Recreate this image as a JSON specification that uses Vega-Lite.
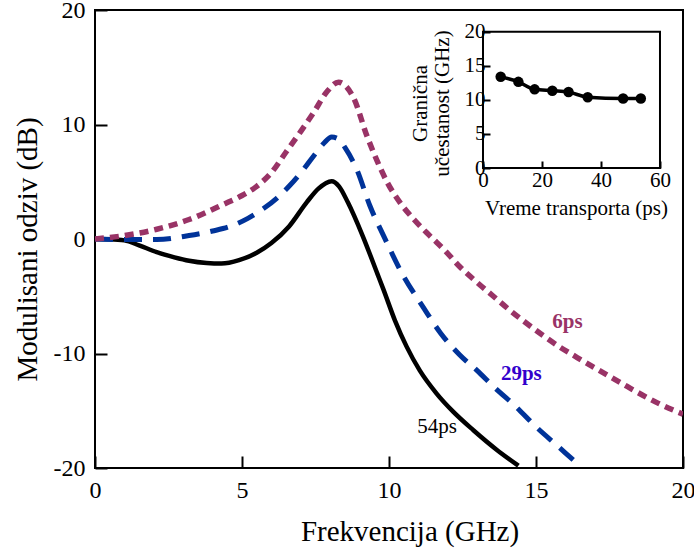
{
  "$schema": "https://vega.github.io/schema/vega-lite/v6.json",
  "width": 588,
  "height": 458,
  "autosize": {"type": "none"},
  "padding": {"left": 95, "top": 10, "right": 11, "bottom": 86},
  "background": "white",
  "config": {
    "view": {"stroke": "black", "strokeWidth": 2},
    "font": "Liberation Serif"
  },
  "datasets": {
    "curves": [
      {"s": "54ps", "f": 0, "db": 0},
      {"s": "54ps", "f": 0.5, "db": -0.02},
      {"s": "54ps", "f": 1.0, "db": -0.12},
      {"s": "54ps", "f": 1.5, "db": -0.55},
      {"s": "54ps", "f": 2.1, "db": -1.15},
      {"s": "54ps", "f": 2.7, "db": -1.6},
      {"s": "54ps", "f": 3.2, "db": -1.9},
      {"s": "54ps", "f": 3.8, "db": -2.1},
      {"s": "54ps", "f": 4.3, "db": -2.15},
      {"s": "54ps", "f": 4.9, "db": -1.85},
      {"s": "54ps", "f": 5.5, "db": -1.2},
      {"s": "54ps", "f": 6.0, "db": -0.35},
      {"s": "54ps", "f": 6.6, "db": 1.1},
      {"s": "54ps", "f": 7.2, "db": 3.2},
      {"s": "54ps", "f": 7.6, "db": 4.4},
      {"s": "54ps", "f": 8.05, "db": 5.05},
      {"s": "54ps", "f": 8.3, "db": 4.6},
      {"s": "54ps", "f": 8.6, "db": 3.2},
      {"s": "54ps", "f": 9.1, "db": 0.3},
      {"s": "54ps", "f": 9.6, "db": -3.0},
      {"s": "54ps", "f": 9.81, "db": -4.4},
      {"s": "54ps", "f": 10.2, "db": -7.1},
      {"s": "54ps", "f": 10.6, "db": -9.4},
      {"s": "54ps", "f": 11.05, "db": -11.5},
      {"s": "54ps", "f": 11.62, "db": -13.5},
      {"s": "54ps", "f": 12.19, "db": -15.1},
      {"s": "54ps", "f": 12.87, "db": -16.7},
      {"s": "54ps", "f": 13.66, "db": -18.4},
      {"s": "54ps", "f": 14.4, "db": -19.8},
      {"s": "29ps", "f": 0, "db": 0},
      {"s": "29ps", "f": 1.0, "db": -0.05},
      {"s": "29ps", "f": 2.1, "db": -0.05},
      {"s": "29ps", "f": 3.2, "db": 0.3},
      {"s": "29ps", "f": 4.0, "db": 0.7},
      {"s": "29ps", "f": 4.6, "db": 1.1},
      {"s": "29ps", "f": 5.2, "db": 1.8},
      {"s": "29ps", "f": 5.7, "db": 2.6},
      {"s": "29ps", "f": 6.2, "db": 3.6},
      {"s": "29ps", "f": 6.6, "db": 4.6},
      {"s": "29ps", "f": 7.1, "db": 6.1},
      {"s": "29ps", "f": 7.45, "db": 7.3},
      {"s": "29ps", "f": 7.8, "db": 8.4},
      {"s": "29ps", "f": 8.05, "db": 8.9},
      {"s": "29ps", "f": 8.3, "db": 8.7},
      {"s": "29ps", "f": 8.5, "db": 8.0},
      {"s": "29ps", "f": 8.9, "db": 6.1},
      {"s": "29ps", "f": 9.35, "db": 2.9},
      {"s": "29ps", "f": 9.85, "db": 0.1},
      {"s": "29ps", "f": 10.4, "db": -2.8},
      {"s": "29ps", "f": 11.2, "db": -6.1},
      {"s": "29ps", "f": 11.75, "db": -8.2},
      {"s": "29ps", "f": 12.4, "db": -10.1},
      {"s": "29ps", "f": 13.0, "db": -11.5},
      {"s": "29ps", "f": 13.6, "db": -13.0},
      {"s": "29ps", "f": 14.3, "db": -14.6},
      {"s": "29ps", "f": 15.0, "db": -16.4},
      {"s": "29ps", "f": 15.7, "db": -18.0},
      {"s": "29ps", "f": 16.4, "db": -19.6},
      {"s": "6ps", "f": 0, "db": 0},
      {"s": "6ps", "f": 1.0, "db": 0.3},
      {"s": "6ps", "f": 2.1, "db": 0.85},
      {"s": "6ps", "f": 3.2, "db": 1.7},
      {"s": "6ps", "f": 4.35, "db": 3.0},
      {"s": "6ps", "f": 5.0, "db": 3.8},
      {"s": "6ps", "f": 5.5, "db": 4.6},
      {"s": "6ps", "f": 6.0, "db": 5.8},
      {"s": "6ps", "f": 6.5, "db": 7.6},
      {"s": "6ps", "f": 7.0, "db": 9.4},
      {"s": "6ps", "f": 7.45, "db": 11.1},
      {"s": "6ps", "f": 7.9, "db": 12.9},
      {"s": "6ps", "f": 8.28, "db": 13.7},
      {"s": "6ps", "f": 8.55, "db": 13.3},
      {"s": "6ps", "f": 8.8, "db": 12.3},
      {"s": "6ps", "f": 9.25, "db": 9.0},
      {"s": "6ps", "f": 9.6, "db": 6.8},
      {"s": "6ps", "f": 9.95, "db": 4.9},
      {"s": "6ps", "f": 10.4, "db": 3.1},
      {"s": "6ps", "f": 10.85, "db": 1.7},
      {"s": "6ps", "f": 11.4, "db": 0.25},
      {"s": "6ps", "f": 11.9, "db": -1.0},
      {"s": "6ps", "f": 12.4, "db": -2.4},
      {"s": "6ps", "f": 13.0, "db": -3.8},
      {"s": "6ps", "f": 13.55, "db": -5.0},
      {"s": "6ps", "f": 14.1, "db": -6.2},
      {"s": "6ps", "f": 14.7, "db": -7.4},
      {"s": "6ps", "f": 15.25, "db": -8.45},
      {"s": "6ps", "f": 15.8, "db": -9.42},
      {"s": "6ps", "f": 16.4, "db": -10.35},
      {"s": "6ps", "f": 16.95, "db": -11.18},
      {"s": "6ps", "f": 17.5, "db": -12.0},
      {"s": "6ps", "f": 18.1, "db": -12.88},
      {"s": "6ps", "f": 18.6, "db": -13.6},
      {"s": "6ps", "f": 19.2, "db": -14.4},
      {"s": "6ps", "f": 20.0, "db": -15.3}
    ],
    "labels": [
      {"label": "6ps", "f": 16.07, "db": -7.25},
      {"label": "29ps", "f": 14.5, "db": -11.76},
      {"label": "54ps", "f": 11.64, "db": -16.45}
    ],
    "inset": [
      {"t": 6.0, "fc": 13.4},
      {"t": 12.0, "fc": 12.65},
      {"t": 17.5, "fc": 11.55},
      {"t": 23.5, "fc": 11.35},
      {"t": 29.0, "fc": 11.15},
      {"t": 35.5, "fc": 10.4},
      {"t": 47.5, "fc": 10.2},
      {"t": 53.5, "fc": 10.2}
    ]
  },
  "layer": [
    {
      "data": {"name": "curves"},
      "encoding": {
        "x": {
          "field": "f", "type": "quantitative",
          "scale": {"domain": [0, 20], "nice": false, "zero": false},
          "axis": {
            "orient": "bottom", "values": [0, 5, 10, 15, 20], "grid": false, "domain": false,
            "ticks": true, "tickSize": -12, "tickWidth": 2, "tickColor": "black",
            "labelFont": "Liberation Serif", "labelFontSize": 24, "labelColor": "black",
            "labelPadding": 22, "labelFlush": false, "labelOverlap": false, "labelExpr": "datum.value",
            "title": "Frekvencija (GHz)", "titleFont": "Liberation Serif", "titleFontSize": 29,
            "titleFontWeight": "normal", "titleColor": "black",
            "titleX": 314.5, "titleY": 72, "titleBaseline": "alphabetic", "titleAlign": "center"
          }
        },
        "y": {
          "field": "db", "type": "quantitative",
          "scale": {"domain": [-20, 20], "nice": false, "zero": false},
          "axis": {
            "orient": "left", "values": [-20, -10, 0, 10, 20], "grid": false, "domain": false,
            "ticks": true, "tickSize": -12, "tickWidth": 2, "tickColor": "black",
            "labelFont": "Liberation Serif", "labelFontSize": 24, "labelColor": "black",
            "labelPadding": 22, "labelFlush": false, "labelOverlap": false, "labelExpr": "datum.value",
            "title": "Modulisani odziv (dB)", "titleFont": "Liberation Serif", "titleFontSize": 29,
            "titleFontWeight": "normal", "titleColor": "black",
            "titleX": -59, "titleY": 239, "titleBaseline": "alphabetic", "titleAlign": "center", "titleAngle": 270
          }
        }
      },
      "layer": [
        {
          "transform": [{"filter": "datum.s === '54ps'"}],
          "mark": {"type": "line", "color": "black", "strokeWidth": 4.5, "interpolate": "monotone", "clip": true}
        },
        {
          "transform": [{"filter": "datum.s === '29ps'"}],
          "mark": {"type": "line", "color": "#003399", "strokeWidth": 5, "strokeDash": [18, 11], "interpolate": "monotone", "clip": true}
        },
        {
          "transform": [{"filter": "datum.s === '6ps'"}],
          "mark": {"type": "line", "color": "#993366", "strokeWidth": 5.5, "strokeDash": [9, 6], "interpolate": "monotone", "clip": true}
        },
        {
          "data": {"name": "labels"},
          "transform": [{"filter": "datum.label === '6ps'"}],
          "mark": {"type": "text", "font": "Liberation Serif", "fontSize": 21, "fontWeight": "bold", "color": "#993366", "align": "center", "baseline": "middle"},
          "encoding": {"text": {"field": "label"}}
        },
        {
          "data": {"name": "labels"},
          "transform": [{"filter": "datum.label === '29ps'"}],
          "mark": {"type": "text", "font": "Liberation Serif", "fontSize": 21, "fontWeight": "bold", "color": "#3300cc", "align": "center", "baseline": "middle"},
          "encoding": {"text": {"field": "label"}}
        },
        {
          "data": {"name": "labels"},
          "transform": [{"filter": "datum.label === '54ps'"}],
          "mark": {"type": "text", "font": "Liberation Serif", "fontSize": 21, "fontWeight": "normal", "color": "black", "align": "center", "baseline": "middle"},
          "encoding": {"text": {"field": "label"}}
        }
      ]
    },
    {
      "data": {"name": "inset"},
      "layer": [
        {
          "transform": [{"aggregate": [{"op": "count", "as": "n"}]}],
          "mark": {"type": "rect", "fill": "transparent", "stroke": "black", "strokeWidth": 2},
          "encoding": {
            "x": {
              "datum": 0, "type": "quantitative",
              "scale": {"domain": [-131.53, 67.8], "nice": false, "zero": false},
              "axis": {
                "orient": "bottom", "offset": -300, "values": [0, 20, 40, 60], "grid": false, "domain": false,
                "tickSize": -7, "tickWidth": 2, "tickColor": "black",
                "labelFont": "Liberation Serif", "labelFontSize": 21, "labelColor": "black",
                "labelPadding": 8, "labelFlush": false, "labelOverlap": false,
                "title": "Vreme transporta (ps)", "titleFont": "Liberation Serif", "titleFontSize": 21,
                "titleFontWeight": "normal", "titleColor": "black",
                "titleX": 481, "titleY": 46, "titleBaseline": "alphabetic", "titleAlign": "center"
              }
            },
            "x2": {"datum": 60},
            "y": {
              "datum": 0, "type": "quantitative",
              "scale": {"domain": [-44.05, 23.2], "nice": false, "zero": false},
              "axis": {
                "orient": "left", "offset": -388, "values": [0, 5, 10, 15, 20], "grid": false, "domain": false,
                "tickSize": -7, "tickWidth": 2, "tickColor": "black",
                "labelFont": "Liberation Serif", "labelFontSize": 21, "labelColor": "black",
                "labelPadding": 5, "labelFlush": false, "labelOverlap": false,
                "title": ["Granična", "učestanost (GHz)"], "titleFont": "Liberation Serif", "titleFontSize": 21,
                "titleFontWeight": "normal", "titleColor": "black", "titleLineHeight": 22,
                "titleX": -57, "titleY": 93, "titleBaseline": "alphabetic", "titleAlign": "center", "titleAngle": 270
              }
            },
            "y2": {"datum": 20}
          }
        },
        {
          "mark": {"type": "line", "color": "black", "strokeWidth": 3.5, "interpolate": "monotone"},
          "encoding": {
            "x": {
              "field": "t", "type": "quantitative",
              "scale": {"domain": [-131.53, 67.8], "nice": false, "zero": false},
              "axis": {
                "orient": "bottom", "offset": -300, "values": [0, 20, 40, 60], "grid": false, "domain": false,
                "tickSize": -7, "tickWidth": 2, "tickColor": "black",
                "labelFont": "Liberation Serif", "labelFontSize": 21, "labelColor": "black",
                "labelPadding": 8, "labelFlush": false, "labelOverlap": false,
                "title": "Vreme transporta (ps)", "titleFont": "Liberation Serif", "titleFontSize": 21,
                "titleFontWeight": "normal", "titleColor": "black",
                "titleX": 481, "titleY": 46, "titleBaseline": "alphabetic", "titleAlign": "center"
              }
            },
            "y": {
              "field": "fc", "type": "quantitative",
              "scale": {"domain": [-44.05, 23.2], "nice": false, "zero": false},
              "axis": {
                "orient": "left", "offset": -388, "values": [0, 5, 10, 15, 20], "grid": false, "domain": false,
                "tickSize": -7, "tickWidth": 2, "tickColor": "black",
                "labelFont": "Liberation Serif", "labelFontSize": 21, "labelColor": "black",
                "labelPadding": 5, "labelFlush": false, "labelOverlap": false,
                "title": ["Granična", "učestanost (GHz)"], "titleFont": "Liberation Serif", "titleFontSize": 21,
                "titleFontWeight": "normal", "titleColor": "black", "titleLineHeight": 22,
                "titleX": -57, "titleY": 93, "titleBaseline": "alphabetic", "titleAlign": "center", "titleAngle": 270
              }
            }
          }
        },
        {
          "mark": {"type": "point", "filled": true, "color": "black", "opacity": 1, "size": 110},
          "encoding": {
            "x": {
              "field": "t", "type": "quantitative",
              "scale": {"domain": [-131.53, 67.8], "nice": false, "zero": false},
              "axis": {
                "orient": "bottom", "offset": -300, "values": [0, 20, 40, 60], "grid": false, "domain": false,
                "tickSize": -7, "tickWidth": 2, "tickColor": "black",
                "labelFont": "Liberation Serif", "labelFontSize": 21, "labelColor": "black",
                "labelPadding": 8, "labelFlush": false, "labelOverlap": false,
                "title": "Vreme transporta (ps)", "titleFont": "Liberation Serif", "titleFontSize": 21,
                "titleFontWeight": "normal", "titleColor": "black",
                "titleX": 481, "titleY": 46, "titleBaseline": "alphabetic", "titleAlign": "center"
              }
            },
            "y": {
              "field": "fc", "type": "quantitative",
              "scale": {"domain": [-44.05, 23.2], "nice": false, "zero": false},
              "axis": {
                "orient": "left", "offset": -388, "values": [0, 5, 10, 15, 20], "grid": false, "domain": false,
                "tickSize": -7, "tickWidth": 2, "tickColor": "black",
                "labelFont": "Liberation Serif", "labelFontSize": 21, "labelColor": "black",
                "labelPadding": 5, "labelFlush": false, "labelOverlap": false,
                "title": ["Granična", "učestanost (GHz)"], "titleFont": "Liberation Serif", "titleFontSize": 21,
                "titleFontWeight": "normal", "titleColor": "black", "titleLineHeight": 22,
                "titleX": -57, "titleY": 93, "titleBaseline": "alphabetic", "titleAlign": "center", "titleAngle": 270
              }
            }
          }
        }
      ]
    }
  ],
  "resolve": {"scale": {"x": "independent", "y": "independent"}, "axis": {"x": "independent", "y": "independent"}}
}
